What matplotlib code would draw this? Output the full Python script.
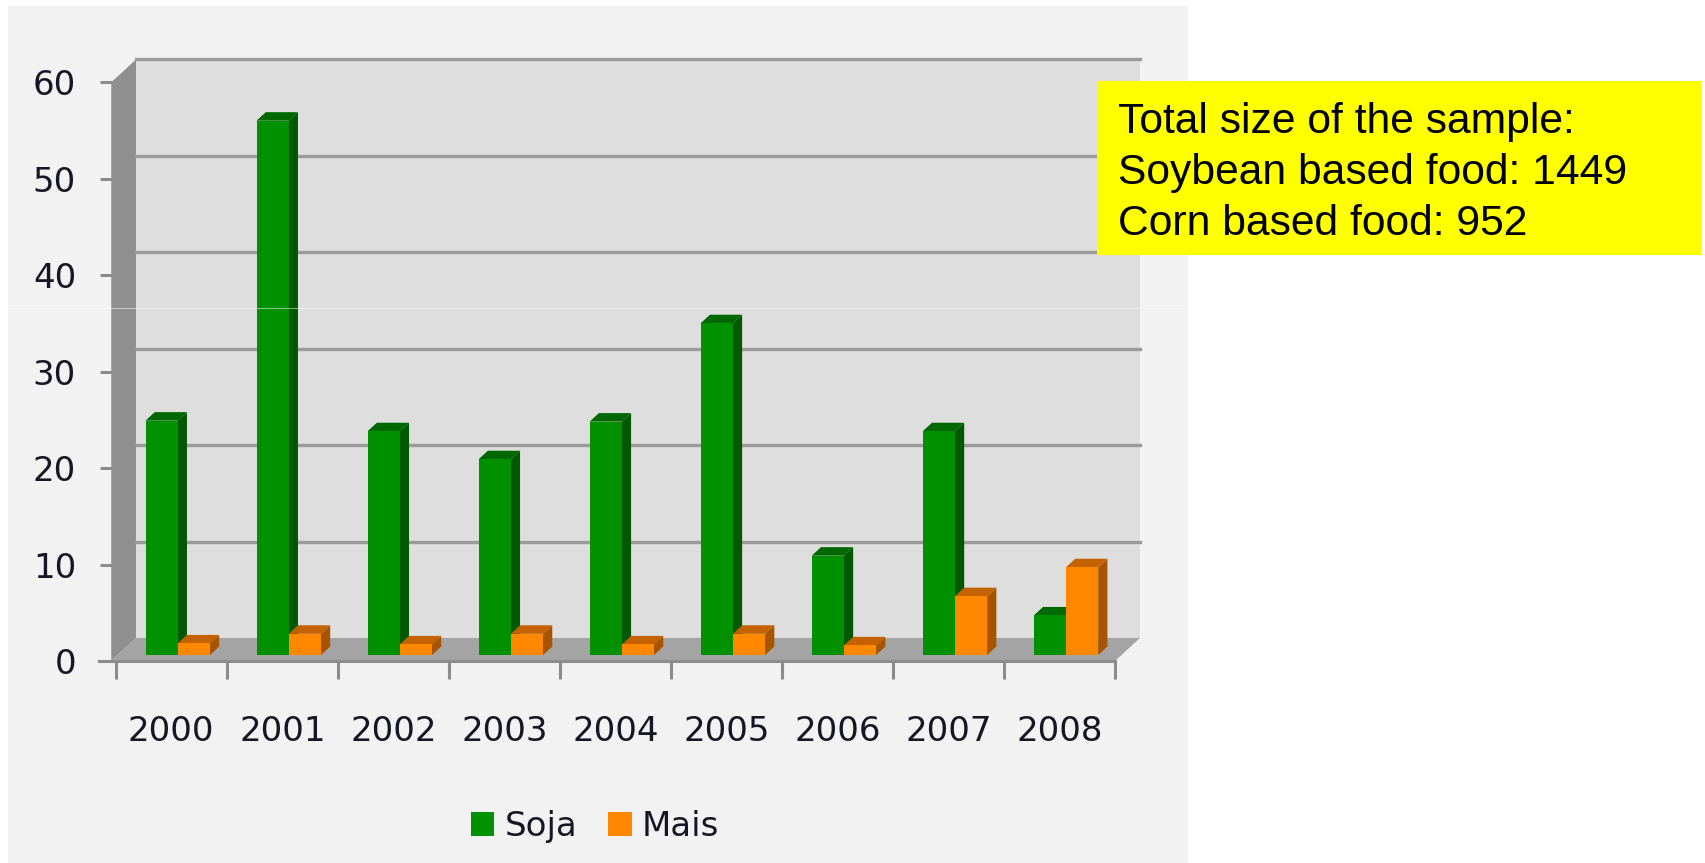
import matplotlib
matplotlib.use("Agg")
import matplotlib.pyplot as plt
from matplotlib.patches import Patch, Rectangle
from matplotlib.lines import Line2D

# data
years = ["2000", "2001", "2002", "2003", "2004", "2005", "2006", "2007", "2008"]
soja = [24.3, 55.4, 23.2, 20.3, 24.2, 34.4, 10.3, 23.2, 4.1]
mais = [1.2, 2.2, 1.1, 2.2, 1.1, 2.2, 1.0, 6.1, 9.1]
series_names = ["Soja", "Mais"]
y_ticks = [0, 10, 20, 30, 40, 50, 60]
note_lines = ["Total size of the sample:",
              "Soybean based food: 1449",
              "Corn based food: 952"]

W, H = 1705, 863

GREEN = ("#009000", "#005800", "#006800")   # front, side, top
ORANGE = ("#ff8800", "#a65400", "#c46200")
TEXT = "#161626"

# depth of the pseudo 3d box, in data units
DX, DY = 0.225, 2.385
WX = -0.04
BW, D0, D1 = 0.29, 0.26, 0.63


def proj(x, v, d):
    return x + d * DX, v + d * DY


def face(ax, pts, color, z):
    xs, ys = zip(*[proj(*p) for p in pts])
    ax.fill(xs, ys, color=color, lw=0, clip_on=False, zorder=z)


fig = plt.figure(figsize=(W / 100, H / 100), dpi=100)
fig.patch.set_facecolor("white")
fig.add_artist(Rectangle((8 / W, 0), 1180 / W, 857 / H, transform=fig.transFigure,
                         facecolor="#f2f2f2", lw=0, zorder=-1))

ax = fig.add_axes([115.7 / W, 202 / H, 999.3 / W, 578.7 / H])
ax.set_xlim(0, len(years))
ax.set_ylim(y_ticks[0], y_ticks[-1])
ax.patch.set_visible(False)
for s in ax.spines.values():
    s.set_visible(False)

top = y_ticks[-1]
n = len(years)

# walls and floor
face(ax, [(WX, 0, 0), (WX, top, 0), (WX, top, 1), (WX, 0, 1)], "#8f8f8f", 2)
face(ax, [(WX, 0, 1), (n, 0, 1), (n, top, 1), (WX, top, 1)], "#dedede", 2)
face(ax, [(WX, 0, 0), (n, 0, 0), (n, 0, 1), (WX, 0, 1)], "#a4a4a4", 2)
for v in y_ticks[1:]:
    xs, ys = zip(proj(WX, v, 1), proj(n, v, 1))
    ax.plot(xs, ys, color="#9b9b9b", lw=2.4, clip_on=False, zorder=3)

# front axis line
ax.plot([-0.15, n], [0, 0], color="#8c8c8c", lw=2.2, clip_on=False, zorder=4)

# bars
for i in range(n):
    for x0, v, cols in [(i + 0.5 - BW, soja[i], GREEN), (i + 0.5, mais[i], ORANGE)]:
        x1 = x0 + BW
        face(ax, [(x1, 0, D0), (x1, 0, D1), (x1, v, D1), (x1, v, D0)], cols[1], 5)
        face(ax, [(x0, v, D0), (x1, v, D0), (x1, v, D1), (x0, v, D1)], cols[2], 5)
        face(ax, [(x0, 0, D0), (x1, 0, D0), (x1, v, D0), (x0, v, D0)], cols[0], 5)

# ticks
ax.set_yticks(y_ticks)
ax.set_yticklabels([str(t) for t in y_ticks])
ax.tick_params(axis="y", length=11.5, width=2.2, color="#8c8c8c", pad=17,
               labelsize=24.5, labelcolor=TEXT)
ax.set_xticks(range(n + 1))
ax.set_xticks([i + 0.5 for i in range(n)], minor=True)
ax.set_xticklabels([])
ax.set_xticklabels(years, minor=True)
ax.tick_params(axis="x", which="major", length=13, width=2.2, color="#8c8c8c")
ax.tick_params(axis="x", which="minor", length=0, pad=39, labelsize=24.5,
               labelcolor=TEXT)

# legend
fig.legend(handles=[Patch(facecolor=GREEN[0]), Patch(facecolor=ORANGE[0])],
           labels=series_names, loc="center", bbox_to_anchor=(595 / W, 1 - 826 / H),
           ncol=2, frameon=False, fontsize=24.5, labelcolor=TEXT,
           handlelength=0.7, handleheight=0.7, handletextpad=0.3, columnspacing=0.9)

# yellow note box
fig.add_artist(Rectangle((1097 / W, 1 - 255.5 / H), 605 / W, 174 / H,
                         transform=fig.transFigure, facecolor="#ffff00", lw=0, zorder=3))
fig.text(1118 / W, 1 - 173 / H, "\n".join(note_lines), ha="left", va="center",
         fontsize=30.7, family="Liberation Sans", color="black", linespacing=1.36, zorder=4)

# faint light scan line present in the source image
fig.add_artist(Line2D([8 / W, 1188 / W], [1 - 308 / H] * 2, transform=fig.transFigure,
                      color="white", alpha=0.5, lw=0.8, zorder=2))

fig.savefig("out.png", dpi=100)
